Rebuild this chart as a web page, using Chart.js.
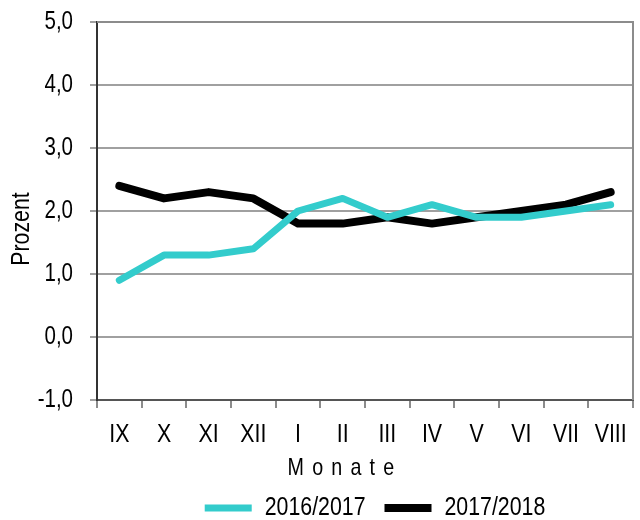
<!DOCTYPE html>
<html>
<head>
<meta charset="utf-8">
<script src="https://cdn.jsdelivr.net/npm/chart.js@4"></script>
<style>
  html, body { margin: 0; padding: 0; background: #ffffff; }
  #wrap { width: 640px; height: 520px; position: relative; }
</style>
</head>
<body>
<div id="wrap"><canvas id="c" width="640" height="520"></canvas></div>
<script>
const months = ['IX', 'X', 'XI', 'XII', 'I', 'II', 'III', 'IV', 'V', 'VI', 'VII', 'VIII'];
const series2016 = [0.9, 1.3, 1.3, 1.4, 2.0, 2.2, 1.9, 2.1, 1.9, 1.9, 2.0, 2.1];
const series2017 = [2.4, 2.2, 2.3, 2.2, 1.8, 1.8, 1.9, 1.8, 1.9, 2.0, 2.1, 2.3];
const seriesLabels = ['2016/2017', '2017/2018'];
const yTitle = 'Prozent';
const xTitle = 'Monate';

const FONT = '"Liberation Sans", Arial, sans-serif';
const SQUEEZE = 0.82;

// Condensed look: draw text horizontally squeezed around its anchor point.
const canvas = document.getElementById('c');
const ctx0 = canvas.getContext('2d');
const origFill = ctx0.fillText;
const origMeasure = ctx0.measureText;
ctx0.fillText = function (text, x, y, maxWidth) {
  this.save();
  this.translate(x, y);
  this.scale(SQUEEZE, 1);
  if (maxWidth !== undefined) origFill.call(this, text, 0, 0, maxWidth / SQUEEZE);
  else origFill.call(this, text, 0, 0);
  this.restore();
};
ctx0.measureText = function (text) {
  const m = origMeasure.call(this, text);
  return {
    width: m.width * SQUEEZE,
    actualBoundingBoxAscent: m.actualBoundingBoxAscent,
    actualBoundingBoxDescent: m.actualBoundingBoxDescent,
    actualBoundingBoxLeft: m.actualBoundingBoxLeft * SQUEEZE,
    actualBoundingBoxRight: m.actualBoundingBoxRight * SQUEEZE
  };
};

const framePlugin = {
  id: 'frame',
  afterLayout(chart) {
    chart.legend.left += 10;
    chart.legend.right += 10;
  },
  beforeDatasetsDraw(chart) {
    const {ctx, chartArea: a} = chart;
    ctx.save();
    ctx.strokeStyle = '#8c8c8c';
    ctx.lineWidth = 2;
    ctx.beginPath();
    ctx.moveTo(a.left, a.top);
    ctx.lineTo(a.right, a.top);
    ctx.lineTo(a.right, a.bottom);
    ctx.stroke();
    ctx.restore();
  },
  afterDraw(chart) {
    const {ctx} = chart;
    ctx.save();
    ctx.fillStyle = '#000';
    ctx.font = '26px ' + FONT;
    ctx.textAlign = 'center';
    ctx.textBaseline = 'middle';
    ctx.translate(22, 229);
    ctx.rotate(-Math.PI / 2);
    ctx.fillText(yTitle, 0, 0);
    ctx.restore();

    ctx.save();
    ctx.fillStyle = '#000';
    ctx.font = '24px ' + FONT;
    ctx.letterSpacing = '10px';
    ctx.textAlign = 'center';
    ctx.textBaseline = 'middle';
    ctx.fillText(xTitle, 345, 468);
    ctx.restore();
  }
};

new Chart(canvas, {
  type: 'line',
  data: {
    labels: months,
    datasets: [
      {
        label: seriesLabels[0],
        data: series2016,
        borderColor: '#33cccc',
        backgroundColor: '#33cccc',
        borderWidth: 7,
        borderCapStyle: 'round',
        borderJoinStyle: 'round',
        pointRadius: 0,
        tension: 0
      },
      {
        label: seriesLabels[1],
        data: series2017,
        borderColor: '#000000',
        backgroundColor: '#000000',
        borderWidth: 8,
        borderCapStyle: 'round',
        borderJoinStyle: 'round',
        pointRadius: 0,
        tension: 0
      }
    ]
  },
  options: {
    responsive: false,
    animation: false,
    events: [],
    layout: { padding: { top: 22, right: 7, bottom: -11, left: 0 } },
    plugins: {
      tooltip: { enabled: false },
      legend: {
        position: 'bottom',
        fullSize: false,
        labels: {
          usePointStyle: true,
          pointStyle: 'line',
          pointStyleWidth: 47,
          padding: 19,
          color: '#000',
          font: { family: FONT, size: 26 }
        }
      }
    },
    scales: {
      x: {
        offset: true,
        grid: {
          offset: true,
          drawOnChartArea: false,
          drawTicks: true,
          tickLength: 8,
          color: '#8c8c8c',
          lineWidth: 2
        },
        border: { color: '#555555', width: 2 },
        ticks: {
          color: '#000',
          padding: 11,
          maxRotation: 0,
          autoSkip: false,
          font: { family: FONT, size: 26 }
        },
        afterFit(scale) {
          scale.height = 76;
          scale.paddingLeft = 0;
          scale.paddingRight = 0;
        }
      },
      y: {
        min: -1,
        max: 5,
        grid: {
          color: '#a0a0a0',
          lineWidth: 2,
          drawTicks: true,
          tickLength: 7
        },
        border: { color: '#333333', width: 2 },
        ticks: {
          stepSize: 1,
          color: '#000',
          padding: 17,
          font: { family: FONT, size: 25 },
          callback: (v) => v.toFixed(1).replace('.', ',')
        },
        afterFit(scale) {
          scale.width = 97;
          scale.paddingTop = 0;
          scale.paddingBottom = 0;
        }
      }
    }
  },
  plugins: [framePlugin]
});
</script>
</body>
</html>
